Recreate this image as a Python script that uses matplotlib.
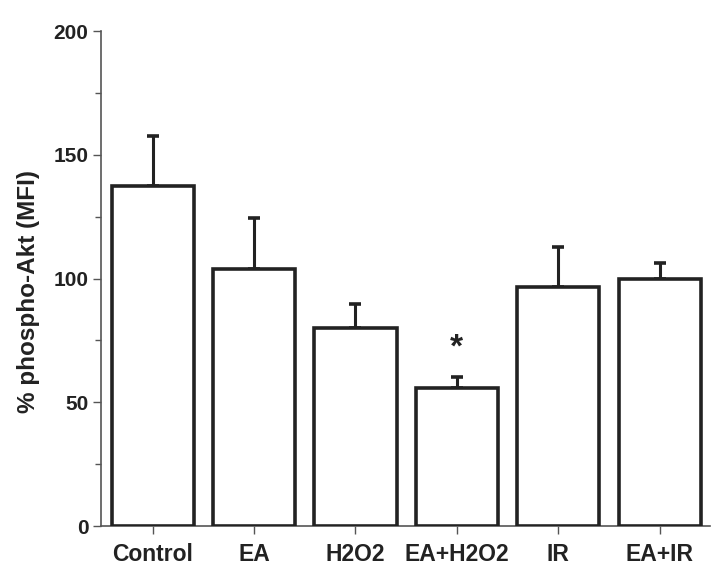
#import library
import numpy as np
import matplotlib.pyplot as plt
from matplotlib.ticker import MultipleLocator

#data
groups = ['Control', 'EA', 'H2O2', 'EA+H2O2', 'IR', 'EA+IR']
means = [137.4, 103.7, 80.1, 55.6, 96.7, 99.7]
errs = [20.2, 20.6, 9.6, 4.5, 15.9, 6.4]
star_group = 'EA+H2O2'
star_y = 72

plt.rcParams['font.family'] = ['Liberation Sans', 'DejaVu Sans']
plt.rcParams['font.weight'] = 'bold'
ink = '#222222'

#plot part
fig = plt.figure(figsize=(7.27, 5.82), dpi=100)
ax = fig.add_axes([0.139, 0.0962, 0.838, 0.8505])

x = np.arange(len(groups))
ax.errorbar(x, means, yerr=[np.zeros(len(errs)), errs], fmt='none',
            ecolor=ink, elinewidth=2.2, capsize=4.5, capthick=2.6, zorder=2)
ax.bar(x, means, width=0.81, facecolor='white', edgecolor=ink,
       linewidth=2.6, zorder=3)

ax.text(groups.index(star_group), star_y, '*', ha='center', va='center',
        fontsize=24, fontweight='bold', color=ink)

ax.set_xlim(-0.51, 5.5)
ax.set_ylim(0, 200)
ax.set_xticks(x)
ax.set_xticklabels(groups, fontsize=16.5, fontweight='bold', color=ink)
ax.yaxis.set_major_locator(MultipleLocator(50))
ax.yaxis.set_minor_locator(MultipleLocator(25))
ax.tick_params(axis='y', labelsize=15, labelcolor=ink, color='#555555',
               width=1, length=6, pad=3)
ax.tick_params(axis='y', which='minor', color='#555555', width=1, length=4)
ax.tick_params(axis='x', color='#555555', width=1, length=6, pad=6)
for lab in ax.get_yticklabels():
    lab.set_fontweight('bold')

ax.set_ylabel('% phospho-Akt (MFI)', fontsize=17.5, fontweight='bold',
              color=ink)
ax.yaxis.set_label_coords(-0.1, 0.473)

for side in ['top', 'right']:
    ax.spines[side].set_visible(False)
for side in ['left', 'bottom']:
    ax.spines[side].set_color('#555555')
    ax.spines[side].set_linewidth(1.2)

fig.savefig('out.png', dpi=100)
